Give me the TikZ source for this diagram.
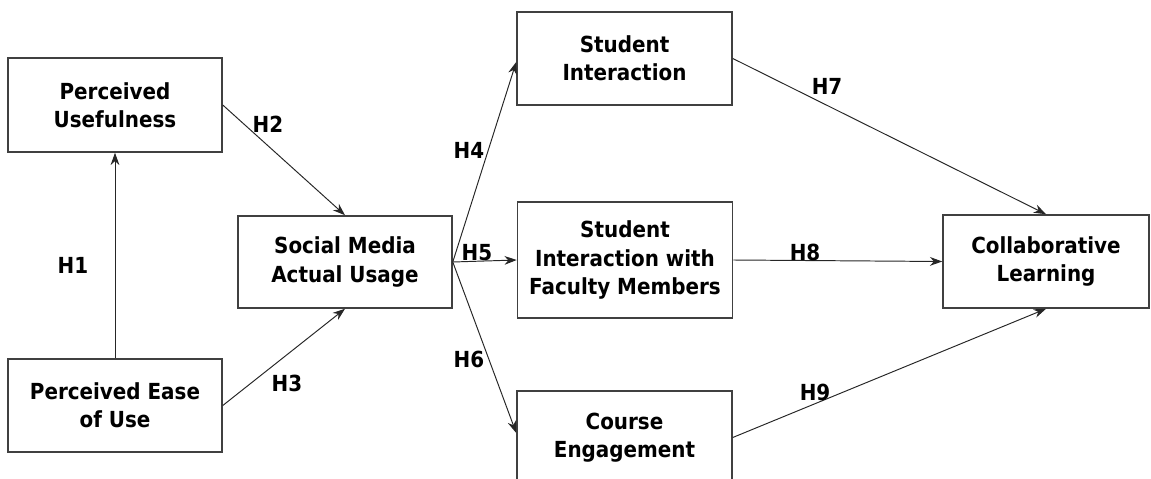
\documentclass[tikz,border=0pt]{standalone}
\usepackage{fontspec}
\setmainfont{DejaVu Sans Condensed}
\usetikzlibrary{arrows.meta}
\begin{document}
\begin{tikzpicture}[x=0.02cm,y=-0.02cm,
  box/.style={draw=black!75,line width=0.9pt,fill=white,align=center,inner sep=0pt,
    font=\fontsize{12.6}{16}\selectfont\bfseries,text=black},
  conn/.style={draw=black!85,line width=0.55pt,-{Stealth[length=7pt,width=5pt]}},
  hlabel/.style={font=\fontsize{12.6}{14}\selectfont\bfseries,text=black,inner sep=0pt}]
\useasboundingbox (0,0) rectangle (1151,479);
\node[box,minimum width=4.28cm,minimum height=1.88cm] (pu) at (115,105) {Perceived\\Usefulness};
\node[box,minimum width=4.28cm,minimum height=1.86cm] (peu) at (115,405.5) {Perceived Ease\\of Use};
\node[box,minimum width=4.28cm,minimum height=1.84cm] (smau) at (345,262) {Social Media\\Actual Usage};
\node[box,minimum width=4.3cm,minimum height=1.86cm] (si) at (624.5,58.5) {Student\\Interaction};
\node[box,minimum width=4.3cm,minimum height=2.32cm] (sifm) at (625,260) {Student\\Interaction with\\Faculty Members};
\node[box,minimum width=4.3cm,minimum height=1.86cm] (ce) at (624.5,437.5) {Course\\Engagement};
\node[box,minimum width=4.12cm,minimum height=1.86cm] (cl) at (1046,261.5) {Collaborative\\Learning};
\draw[conn] (peu.north) -- (pu.south);
\draw[conn] (pu.east) -- (smau.north);
\draw[conn] (peu.east) -- (smau.south);
\draw[conn] (smau.east) -- ([yshift=-0.07cm]si.west);
\draw[conn] (smau.east) -- (sifm.west);
\draw[conn] (smau.east) -- ([yshift=0.09cm]ce.west);
\draw[conn] (si.east) -- (cl.north);
\draw[conn] (sifm.east) -- (cl.west);
\draw[conn] (ce.east) -- (cl.south);
\node[hlabel] (h1) at (73,265) {H1};
\node[hlabel] (h2) at (268,124) {H2};
\node[hlabel] (h3) at (287,383) {H3};
\node[hlabel] (h4) at (469,150) {H4};
\node[hlabel] (h5) at (477,253) {H5};
\node[hlabel] (h6) at (469,359) {H6};
\node[hlabel] (h7) at (827,86) {H7};
\node[hlabel] (h8) at (805,252) {H8};
\node[hlabel] (h9) at (815,392) {H9};
\end{tikzpicture}
\end{document}
